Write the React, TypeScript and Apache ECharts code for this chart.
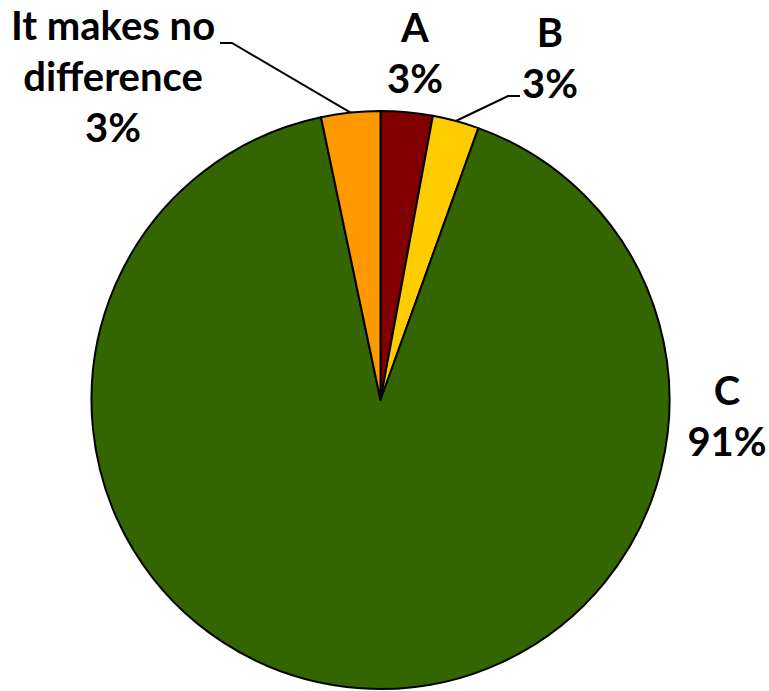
import React, { useEffect, useRef } from "react";
import * as echarts from "echarts";

// Survey answers, in clockwise order from twelve o'clock
const categories = ["A", "B", "C", "It makes no difference"];
const displayNames = ["A", "B", "C", "It makes no\ndifference"];
const shares = [2.9, 2.6, 91.2, 3.3];
const colors = ["#800000", "#FFCC00", "#336600", "#FF9900"];

const CX = 380.5;
const CY = 400;
const R = 289;

// Point on the rim at the middle of slice i (clockwise from the top)
function rimPoint(i: number): [number, number] {
  const total = shares.reduce((a, b) => a + b, 0);
  let before = 0;
  for (let k = 0; k < i; k++) before += shares[k];
  const mid = ((before + shares[i] / 2) / total) * Math.PI * 2;
  return [CX + R * Math.sin(mid), CY - R * Math.cos(mid)];
}

export default function App() {
  const ref = useRef<HTMLDivElement>(null);

  useEffect(() => {
    document.body.style.margin = "0";
    if (!ref.current) return;
    const chart = echarts.init(ref.current, undefined, { renderer: "svg" });

    const labelPlaces: Record<number, { x: number; y: number; elbow?: [number, number]; end?: [number, number] }> = {
      0: { x: 415, y: 52 },
      1: { x: 550, y: 57 },
      2: { x: 727, y: 415 },
      3: { x: 113, y: 76 },
    };
    const leaders: Record<number, [[number, number], [number, number]]> = {
      1: [[508, 96], [520, 96]],
      3: [[232, 43], [220, 43]],
    };

    chart.setOption({
      animation: false,
      backgroundColor: "#ffffff",
      series: [
        {
          type: "pie",
          center: [CX, CY],
          radius: R,
          startAngle: 90,
          clockwise: true,
          avoidLabelOverlap: false,
          itemStyle: { borderColor: "#000000", borderWidth: 2 },
          label: {
            show: true,
            position: "outside",
            formatter: (p: any) => `${displayNames[p.dataIndex]}\n${Math.round(p.percent)}%`,
            fontFamily: "Lato",
            fontWeight: "bold",
            fontSize: 40,
            lineHeight: 51,
            color: "#000000",
            align: "center",
          },
          labelLine: {
            show: true,
            lineStyle: { color: "#000000", width: 2 },
          },
          labelLayout: (params: any) => {
            const i = params.dataIndex;
            const place = labelPlaces[i];
            const out: any = {
              x: place.x,
              y: place.y,
              align: "center",
              verticalAlign: "middle",
            };
            const p = rimPoint(i);
            out.labelLinePoints = leaders[i] ? [p, leaders[i][0], leaders[i][1]] : [p, p, p];
            return out;
          },
          data: categories.map((name, i) => ({
            name,
            value: shares[i],
            itemStyle: { color: colors[i] },
            labelLine: { show: i === 1 || i === 3 },
          })),
        },
      ],
    });

    return () => chart.dispose();
  }, []);

  return <div ref={ref} style={{ width: 769, height: 691 }} />;
}
